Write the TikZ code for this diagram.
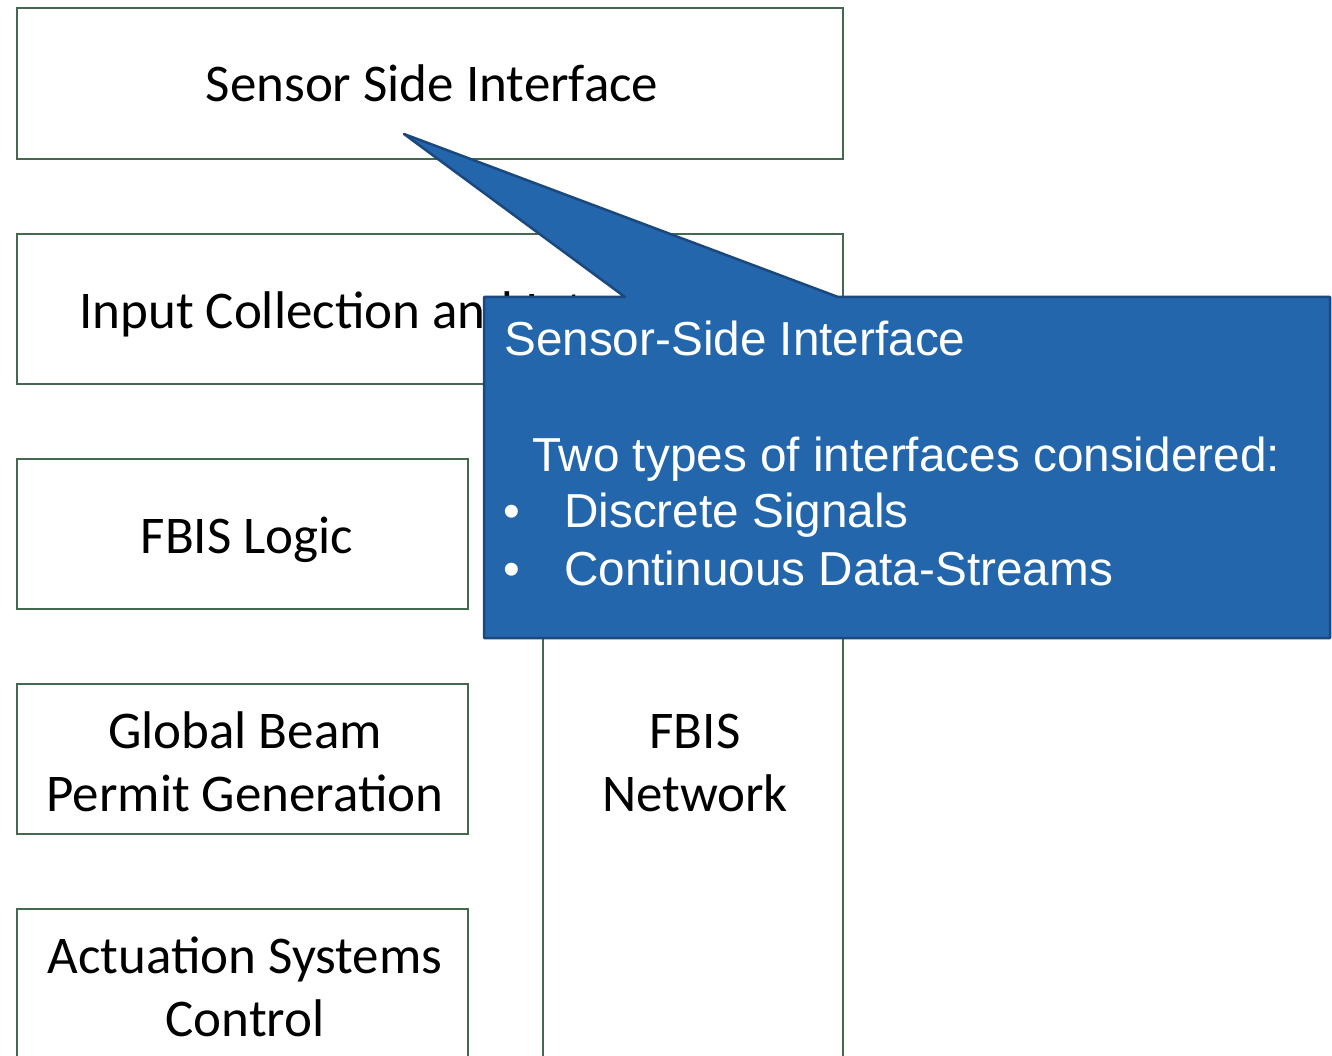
\documentclass[tikz,border=0pt]{standalone}
\usepackage{fontspec}
\newfontfamily\boxfont{Carlito}
\newfontfamily\notefont{Liberation Sans}
\definecolor{boxline}{RGB}{68,104,80}
\definecolor{notefill}{RGB}{35,102,171}
\definecolor{noteline}{RGB}{27,72,126}
\begin{document}
\begin{tikzpicture}[x=1pt,y=-1pt,
  blk/.style n args={2}{draw=boxline, line width=2.8pt, fill=white,
    inner sep=0pt, outer sep=0pt, anchor=north west,
    minimum width=#1, minimum height=#2},
  boxtxt/.style={font=\boxfont\fontsize{53}{63}\selectfont, text=black,
    inner sep=0pt, anchor=base},
  notetxt/.style={font=\notefont\fontsize{47.7}{57.5}\selectfont, text=white,
    inner sep=0pt, anchor=base west}]
  \clip (0,0) rectangle (1332,1056);
  \fill[white] (0,0) rectangle (1332,1056);

  % layer blocks
  \node[blk={826pt}{151pt}] (ssi) at (17,8) {};
  \node[blk={826pt}{150pt}] (inp) at (17,234) {};
  \node[blk={451pt}{150pt}] (log) at (17,459) {};
  \node[blk={451pt}{150pt}] (gbp) at (17,684) {};
  \node[blk={451pt}{220pt}] (act) at (17,909) {};
  \node[blk={300pt}{700pt}] (net) at (543,459) {};

  % block labels
  \node[boxtxt] (ssiT) at (432,102) {Sensor Side Interface};
  \node[boxtxt, anchor=base west] (inpT) at (79,328) {Input Collection and Interlock};
  \node[boxtxt] (logT) at (247,553) {FBIS Logic};
  \node[boxtxt] (gbpT1) at (245,748) {Global Beam};
  \node[boxtxt] (gbpT2) at (245,811) {Permit Generation};
  \node[boxtxt] (actT1) at (245,973) {Actuation Systems};
  \node[boxtxt] (actT2) at (245,1036) {Control};
  \node[boxtxt] (netT1) at (695,748) {FBIS};
  \node[boxtxt] (netT2) at (695,811) {Network};

  % callout with pointer into the sensor side block
  \coordinate (tip) at (404,134);
  \path[fill=notefill, draw=noteline, line width=2.5pt, line join=round]
    (484,297) -- (625,297) -- (tip) -- (838,297) -- (1330,297)
    -- (1330,638) -- (484,638) -- cycle;

  % callout text
  \node[notetxt] (n1) at (504,355) {Sensor-Side Interface};
  \node[notetxt] (n2) at (532,471) {Two types of interfaces considered:};
  \node[notetxt] (b1) at (503,527) {•};
  \node[notetxt] (n3) at (564,527) {Discrete Signals};
  \node[notetxt] (b2) at (503,585) {•};
  \node[notetxt] (n4) at (564,585) {Continuous Data-Streams};
\end{tikzpicture}
\end{document}
